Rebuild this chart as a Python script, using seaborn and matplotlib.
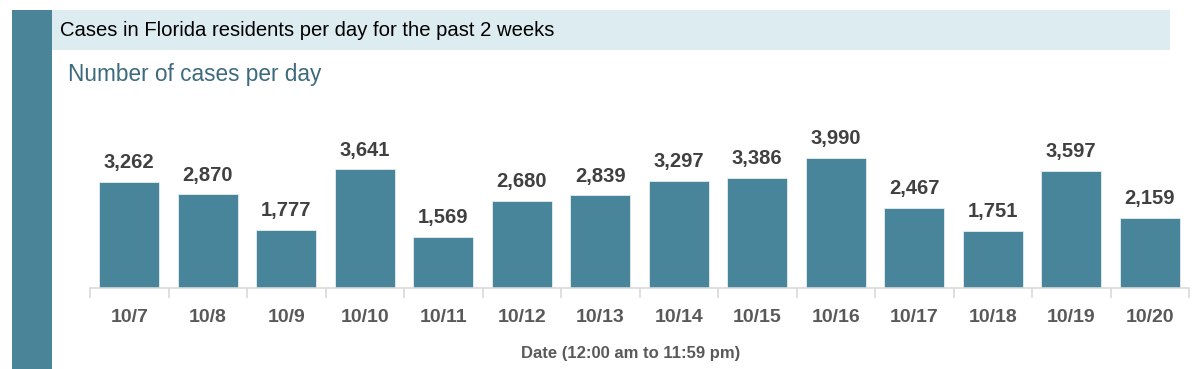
import matplotlib
matplotlib.use("Agg")
import matplotlib.pyplot as plt
import seaborn as sns
import pandas as pd
from matplotlib.patches import Rectangle
from matplotlib.ticker import FixedLocator

dates = ["10/7", "10/8", "10/9", "10/10", "10/11", "10/12", "10/13",
         "10/14", "10/15", "10/16", "10/17", "10/18", "10/19", "10/20"]
cases = [3262, 2870, 1777, 3641, 1569, 2680, 2839,
         3297, 3386, 3990, 2467, 1751, 3597, 2159]
header = "Cases in Florida residents per day for the past 2 weeks"
subtitle = "Number of cases per day"
xlabel = "Date (12:00 am to 11:59 pm)"

sns.set_theme(style="white")
plt.rcParams["font.family"] = ["Liberation Sans", "DejaVu Sans"]

teal = "#48849a"
df = pd.DataFrame({"date": dates, "cases": cases})

fig = plt.figure(figsize=(12, 3.69), dpi=100)
# decorative left bar and header band
fig.patches.append(Rectangle((12/1200, 0), 40/1200, 1 - 10/369, transform=fig.transFigure,
                             facecolor="#4a8499", edgecolor="none", zorder=0))
fig.patches.append(Rectangle((52/1200, 1 - 50/369), (1170-52)/1200, 40/369, transform=fig.transFigure,
                             facecolor="#ddecf1", edgecolor="none", zorder=0))
fig.text(60/1200, 1 - 30/369, header, fontsize=14.6, color="black", va="center", ha="left")
fig.text(68/1200, 1 - 75/369, subtitle, fontsize=16.3, color="#3d6b7c", va="center", ha="left")

ax = fig.add_axes([90/1200, (369-288)/369, (1189-90)/1200, (288-100)/369])
sns.barplot(data=df, x="date", y="cases", color=teal, saturation=1, width=0.765, ax=ax)
for p in ax.patches:
    p.set_edgecolor("#e6eef1")
    p.set_linewidth(0.6)
ax.set_ylim(0, 5770)
ax.set_xlim(-0.5, len(dates) - 0.5)
ax.set_yticks([])
ax.set_ylabel("")
for i, v in enumerate(cases):
    ax.text(i, v + 590, f"{v:,}", ha="center", va="center", fontsize=14.5,
            fontweight="bold", color="#404040")
for s in ["top", "right", "left"]:
    ax.spines[s].set_visible(False)
ax.spines["bottom"].set_color("#d9d9d9")
ax.spines["bottom"].set_linewidth(1.2)
ax.xaxis.set_minor_locator(FixedLocator([i - 0.5 for i in range(len(dates) + 1)]))
ax.tick_params(axis="x", which="minor", length=7, width=1.2, color="#d9d9d9", bottom=True)
ax.tick_params(axis="x", which="major", length=0, pad=15, labelsize=14, labelcolor="#595959")
for t in ax.get_xticklabels():
    t.set_fontweight("bold")
ax.set_xlabel(xlabel, fontsize=12, color="#595959", fontweight="bold")
ax.xaxis.set_label_coords(0.492, -0.308)
ax.set_facecolor("none")

fig.savefig("out.png", dpi=100)
